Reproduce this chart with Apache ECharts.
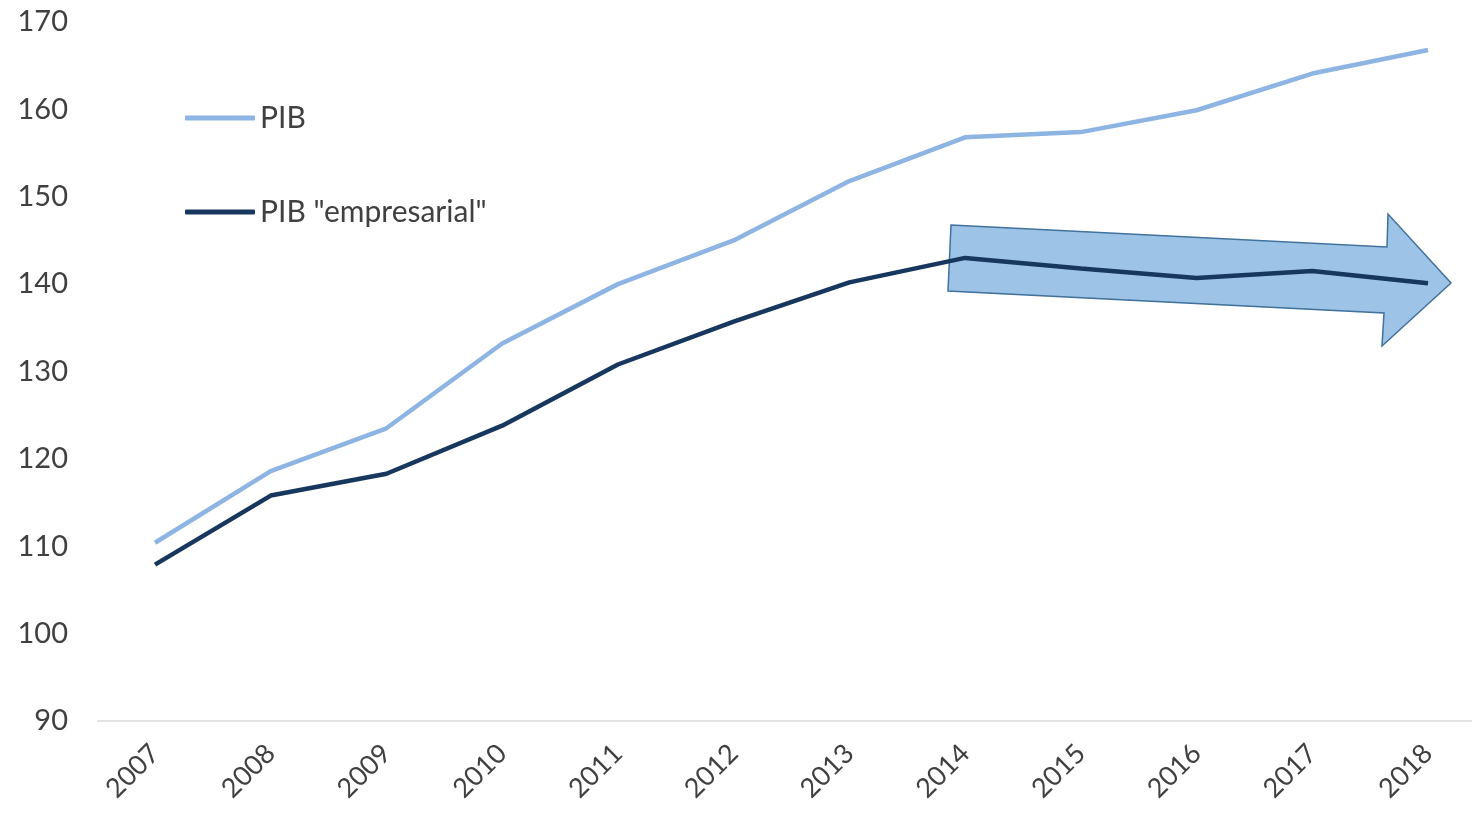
<!DOCTYPE html>
<html>
<head>
<meta charset="utf-8">
<script src="https://cdn.jsdelivr.net/npm/echarts@6/dist/echarts.min.js"></script>
<style>
html, body { margin: 0; padding: 0; background: #fff; }
#chart { width: 1472px; height: 816px; }
</style>
</head>
<body>
<div id="chart"></div>
<script>
// categorias e series
var years = ['2007', '2008', '2009', '2010', '2011', '2012', '2013', '2014', '2015', '2016', '2017', '2018'];
var pib = [110.4, 118.6, 123.5, 133.2, 140.0, 145.0, 151.8, 156.8, 157.4, 159.9, 164.1, 166.8];
var pibEmpresarial = [107.9, 115.8, 118.3, 123.8, 130.8, 135.7, 140.2, 143.0, 141.8, 140.7, 141.5, 140.1];
var seriesNames = ['PIB', 'PIB "empresarial"'];

var fontName = 'Lato, "Open Sans", sans-serif';

var option = {
    animation: false,
    backgroundColor: '#fff',
    grid: {
        left: 155,
        right: 44,
        top: 22,
        bottom: 95
    },
    legend: {
        orient: 'vertical',
        left: 180,
        top: 92,
        icon: 'roundRect',
        itemWidth: 70,
        itemHeight: 5,
        itemGap: 52,
        data: seriesNames,
        textStyle: {
            color: '#404040',
            fontSize: 30,
            lineHeight: 36,
            fontFamily: fontName,
            padding: [0, 0, 6, 0]
        }
    },
    xAxis: {
        type: 'category',
        data: years,
        boundaryGap: false,
        axisTick: { show: false },
        axisLine: { show: false },
        axisLabel: {
            rotate: 45,
            margin: 28,
            color: '#404040',
            fontSize: 27,
            fontFamily: fontName
        }
    },
    yAxis: {
        type: 'value',
        min: 90,
        max: 170,
        interval: 10,
        axisLine: { show: false },
        axisTick: { show: false },
        splitLine: { show: false },
        axisLabel: {
            margin: 87,
            color: '#404040',
            fontSize: 29,
            fontFamily: fontName
        }
    },
    graphic: [{
        // linha do eixo x, da margem esquerda ate a borda
        type: 'line',
        z: 0,
        shape: { x1: 97, y1: 721, x2: 1472, y2: 721 },
        style: { stroke: '#d9d9d9', lineWidth: 1.5 }
    }, {
        type: 'polygon',
        z: 0,
        shape: {
            points: [[951, 225], [1387, 247], [1388, 214], [1451, 283], [1382, 346], [1384, 313], [948, 291]]
        },
        style: {
            fill: '#9dc3e6',
            stroke: '#41719c',
            lineWidth: 1.5
        }
    }],
    series: [{
        name: seriesNames[0],
        type: 'line',
        data: pib,
        symbol: 'none',
        z: 3,
        lineStyle: { color: '#8db4e2', width: 4.5 },
        itemStyle: { color: '#8db4e2' }
    }, {
        name: seriesNames[1],
        type: 'line',
        data: pibEmpresarial,
        symbol: 'none',
        z: 4,
        lineStyle: { color: '#17375e', width: 4.5 },
        itemStyle: { color: '#17375e' }
    }]
};

var myChart = echarts.init(document.getElementById('chart'));
myChart.setOption(option);
</script>
</body>
</html>
